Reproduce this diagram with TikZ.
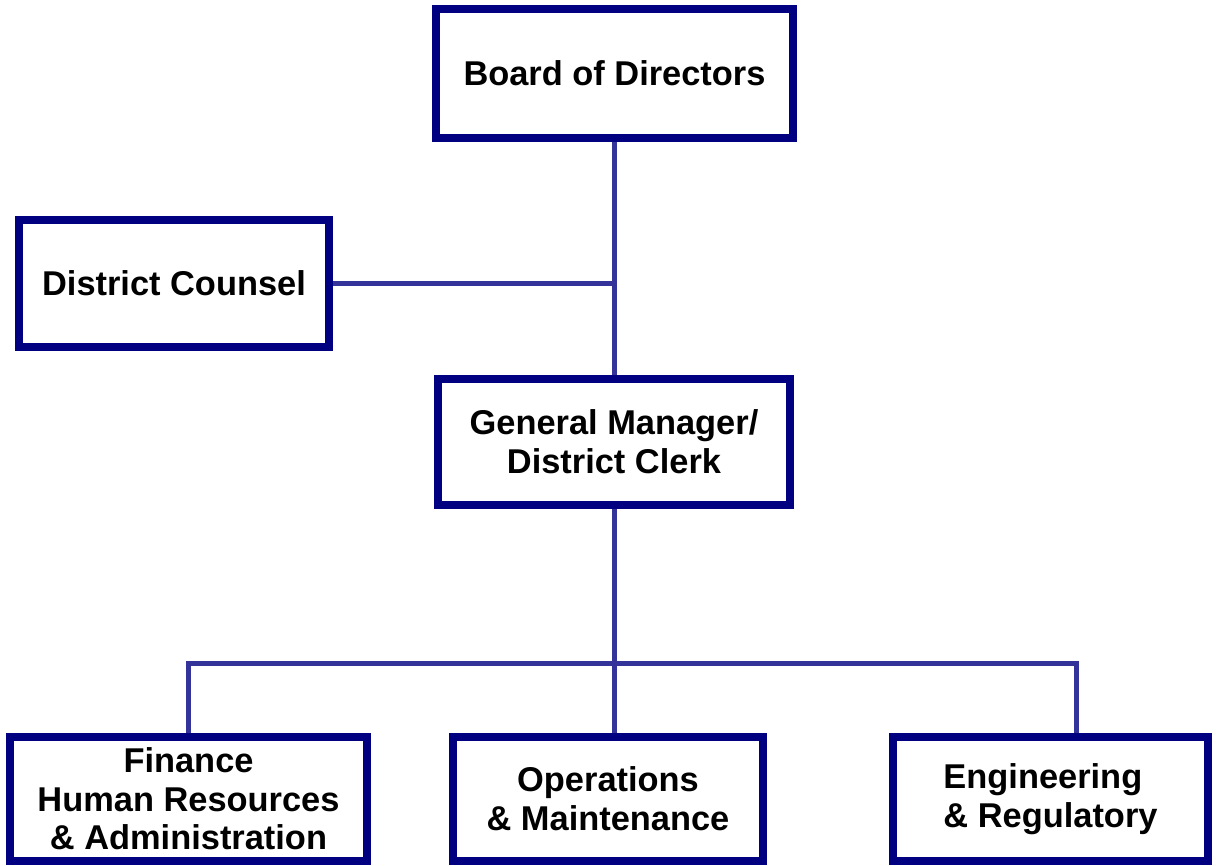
\documentclass[tikz,border=0pt]{standalone}
\usepackage{fontspec}
\setmainfont{Liberation Sans}
\usetikzlibrary{positioning}
\definecolor{boxblue}{HTML}{000080}
\definecolor{linkblue}{HTML}{333399}

\begin{document}
\begin{tikzpicture}[x=0.75pt, y=-0.75pt,
    unit/.style = {draw=boxblue, line width=6pt, fill=white, inner sep=0pt,
        align=center, font=\fontsize{25.8}{29}\selectfont\bfseries},
    link/.style = {draw=linkblue, line width=3.75pt}]
    \useasboundingbox (0,0) rectangle (1216,865);
    % Nodes

    \node[unit, minimum width=267.75pt, minimum height=96.75pt] (board) at (614.5, 73) {Board of Directors};
    \node[unit, minimum width=232.5pt, minimum height=95.25pt] (counsel) at (174, 283.5) {District Counsel};
    \node[unit, minimum width=264pt, minimum height=94.5pt] (gm) at (614, 442) {General Manager/\\District Clerk};

    \node[unit, minimum width=267.75pt, minimum height=93pt] (fin) at (188.5, 799) {Finance\\Human Resources\\\& Administration};
    \node[unit, minimum width=232.5pt, minimum height=93pt] (ops) at (608, 799) {Operations\\\& Maintenance};
    \node[unit, minimum width=236.25pt, minimum height=93pt, align=left] (eng) at (1050.5, 799) {Engineering\\\& Regulatory};

    \coordinate (busR) at (1076, 663);

    % Edges

    \draw[link] (board.south) -- (board.south |- gm.north);
    \draw[link] (counsel.east) -- (counsel.east -| board.south);
    \draw[link] (gm.south) -- (gm.south |- ops.north);
    \draw[link] (fin.north) |- (busR) -- (busR |- eng.north);

\end{tikzpicture}
\end{document}
